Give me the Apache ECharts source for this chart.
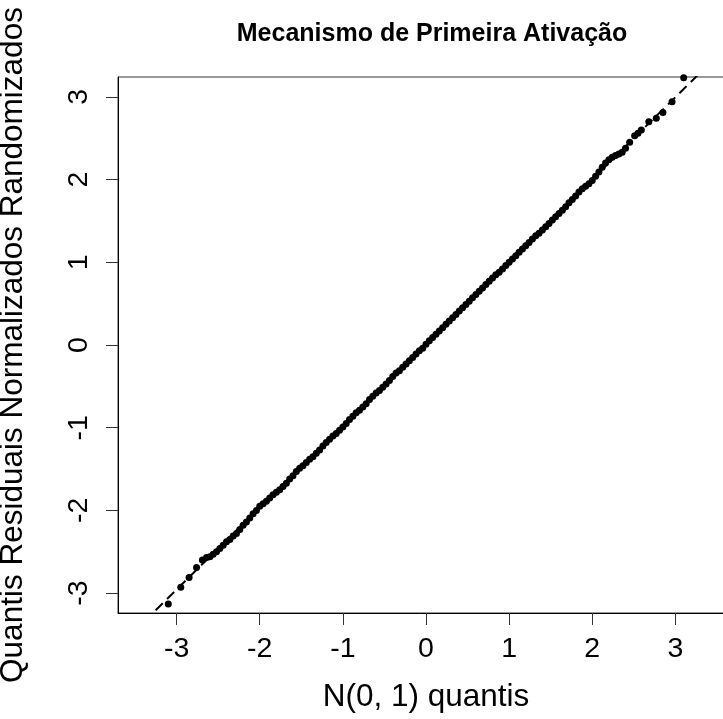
<!DOCTYPE html>
<html>
<head>
<meta charset="utf-8">
<script src="https://cdn.jsdelivr.net/npm/echarts@6/dist/echarts.min.js"></script>
<style>html,body{margin:0;padding:0;background:#fff;}#c{width:723px;height:719px;}</style>
</head>
<body>
<div id="c"></div>
<script>
// Theoretical N(0,1) quantiles (x) and randomized normalized quantile residuals (y)
var qX = [-3.10,-2.95,-2.85,-2.76,-2.69,-2.64,
-2.60,-2.56,-2.52,-2.48,-2.44,-2.40,-2.36,-2.32,-2.28,-2.24,-2.20,-2.16,-2.12,-2.08,-2.04,
-2.00,-1.96,-1.92,-1.88,-1.84,-1.80,-1.76,-1.72,-1.68,-1.64,-1.60,-1.56,-1.52,-1.48,-1.44,
-1.40,-1.36,-1.32,-1.28,-1.24,-1.20,-1.16,-1.12,-1.08,-1.04,-1.00,-0.96,-0.92,-0.88,-0.84,
-0.80,-0.76,-0.72,-0.68,-0.64,-0.60,-0.56,-0.52,-0.48,-0.44,-0.40,-0.36,-0.32,-0.28,-0.24,
-0.20,-0.16,-0.12,-0.08,-0.04,0.00,0.04,0.08,0.12,0.16,0.20,0.24,0.28,0.32,0.36,
0.40,0.44,0.48,0.52,0.56,0.60,0.64,0.68,0.72,0.76,0.80,0.84,0.88,0.92,0.96,
1.00,1.04,1.08,1.12,1.16,1.20,1.24,1.28,1.32,1.36,1.40,1.44,1.48,1.52,1.56,
1.60,1.64,1.68,1.72,1.76,1.80,1.84,1.88,1.92,1.96,2.00,2.04,2.08,2.12,2.16,
2.20,2.24,2.28,2.32,2.36,2.40,
2.45,2.51,2.55,2.59,2.68,2.77,2.85,2.96,3.10];
var qY = [-3.13,-2.93,-2.81,-2.69,-2.60,-2.57,
-2.56,-2.53,-2.50,-2.46,-2.42,-2.38,-2.35,-2.31,-2.28,-2.23,-2.18,-2.14,-2.09,-2.04,-2.00,
-1.95,-1.92,-1.89,-1.85,-1.81,-1.78,-1.75,-1.71,-1.67,-1.62,-1.58,-1.53,-1.49,-1.46,-1.42,
-1.38,-1.35,-1.31,-1.27,-1.22,-1.18,-1.14,-1.10,-1.07,-1.03,-0.99,-0.95,-0.90,-0.86,-0.82,
-0.79,-0.75,-0.71,-0.66,-0.62,-0.58,-0.55,-0.51,-0.47,-0.43,-0.38,-0.34,-0.31,-0.27,-0.23,
-0.19,-0.15,-0.11,-0.07,-0.04,0.01,0.05,0.09,0.13,0.17,0.21,0.25,0.29,0.33,0.37,
0.41,0.45,0.49,0.53,0.57,0.61,0.65,0.69,0.73,0.77,0.81,0.85,0.88,0.92,0.96,
1.00,1.04,1.08,1.12,1.16,1.20,1.24,1.28,1.32,1.35,1.39,1.43,1.47,1.51,1.55,
1.59,1.63,1.67,1.72,1.76,1.80,1.85,1.89,1.92,1.95,1.99,2.04,2.09,2.15,2.20,
2.24,2.27,2.29,2.31,2.33,2.38,
2.45,2.53,2.56,2.60,2.70,2.74,2.81,2.94,3.23];
// Reference (qqline) endpoints
var lineX = [-3.80, 3.80];
var lineY = [-3.75, 3.79];
var xTicks = [-3,-2,-1,0,1,2,3];
var yTicks = [-3,-2,-1,0,1,2,3];

var pts = qX.map(function(x,i){return [x,qY[i]];});
var ln = lineX.map(function(x,i){return [x,lineY[i]];});
var F = 'Liberation Sans, Arial, sans-serif';
var chart = echarts.init(document.getElementById('c'), null, {renderer:'canvas'});
chart.setOption({
  animation:false,
  backgroundColor:'#fff',
  title:{text:'Mecanismo de Primeira Ativação', left:427, top:17, textAlign:'center',
    textStyle:{fontFamily:F, fontWeight:'bold', fontSize:25, color:'#000'}},
  grid:{left:118, top:77, right:-11, bottom:106, show:true, borderColor:'#333', borderWidth:1,
    containLabel:false, outerBoundsMode:'none'},
  xAxis:{type:'value', min:-3.705, max:3.705,
    name:'N(0, 1) quantis', nameLocation:'middle', nameGap:68,
    nameTextStyle:{fontFamily:F, fontSize:31.5, color:'#000'},
    axisLine:{show:true, onZero:false, lineStyle:{color:'#000', width:1}},
    axisTick:{show:true, inside:false, length:12, customValues:xTicks, lineStyle:{color:'#333'}},
    axisLabel:{customValues:xTicks, fontFamily:F, fontSize:28.5, color:'#000', margin:22},
    splitLine:{show:false}},
  yAxis:{type:'value', min:-3.24, max:3.24,
    name:'Quantis Residuais Normalizados Randomizados', nameLocation:'middle', nameGap:89, nameRotate:90,
    nameTextStyle:{fontFamily:F, fontSize:31.5, color:'#000'},
    axisLine:{show:true, onZero:false, lineStyle:{color:'#000', width:1}},
    axisTick:{show:true, inside:false, length:12, customValues:yTicks, lineStyle:{color:'#333'}},
    axisLabel:{customValues:yTicks, rotate:90, fontFamily:F, fontSize:28.5, color:'#000', margin:24},
    splitLine:{show:false}},
  series:[
    {type:'line', data:ln, symbol:'none', clip:true, silent:true,
      lineStyle:{color:'#000', width:2, type:[10,6]}, z:1},
    {type:'scatter', data:pts, symbol:'circle', symbolSize:7, clip:true,
      itemStyle:{color:'#000', opacity:1}, z:2}
  ]
});
</script>
</body>
</html>
